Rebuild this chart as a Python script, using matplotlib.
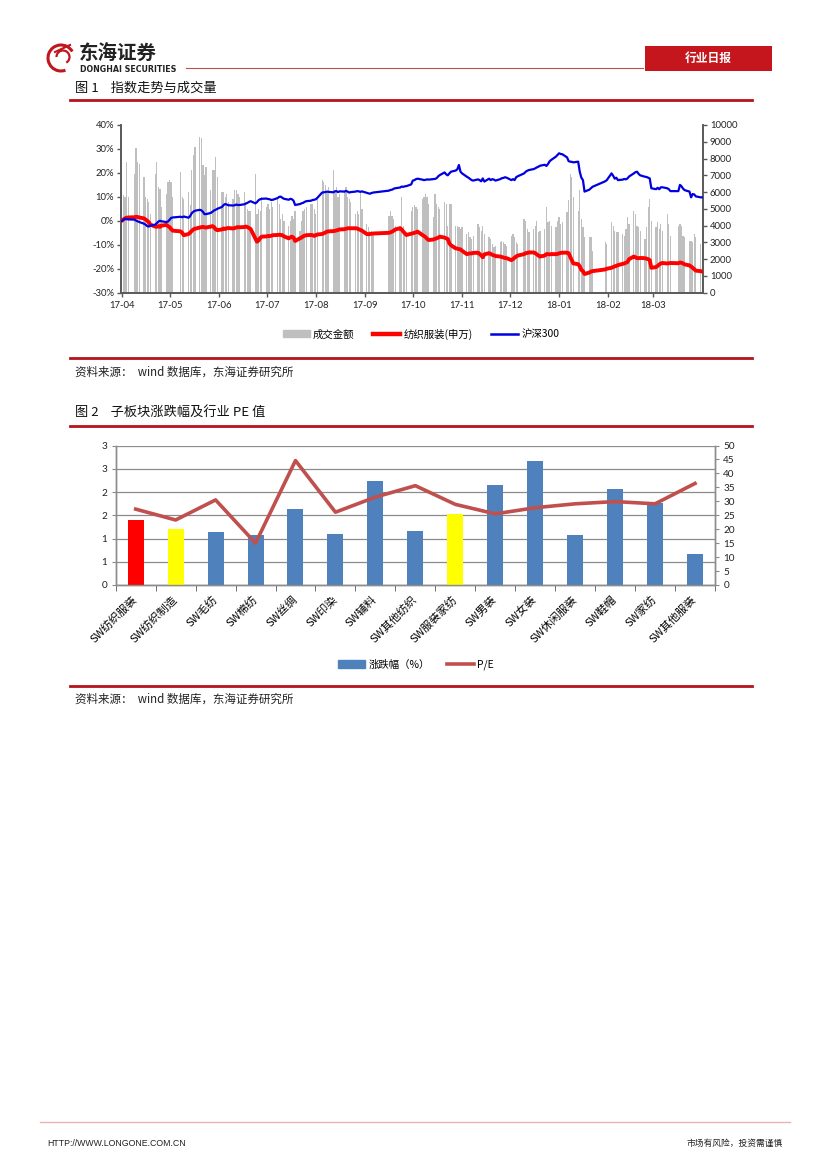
import numpy as np
import pandas as pd
import matplotlib
matplotlib.use('Agg')
import matplotlib.pyplot as plt
from matplotlib.patches import Rectangle, Arc, Patch
from matplotlib.lines import Line2D

plt.rcParams['font.family'] = ['Noto Sans CJK SC', 'DejaVu Sans']
plt.rcParams['axes.unicode_minus'] = False

# ------------------------------------------------------------------ data: chart 1
start_date = '2017-04-24'
end_date = '2018-04-24'
holidays = ['2017-05-01', '2017-05-29', '2017-05-30',
            '2017-10-02', '2017-10-03', '2017-10-04', '2017-10-05', '2017-10-06',
            '2018-01-01', '2018-02-15', '2018-02-16', '2018-02-19', '2018-02-20',
            '2018-02-21', '2018-04-05', '2018-04-06']
month_labels = ['17-04', '17-05', '17-06', '17-07', '17-08', '17-09',
                '17-10', '17-11', '17-12', '18-01', '18-02', '18-03']

# 成交金额 (right axis)
turnover = [
    6100, 5800, 5700, 7800, 5700,
    7100, 8600, 7800, 7700,
    6900, 5700, 5600, 5400, 4700,
    7100, 7800, 6300, 6200, 5100,
    5900, 6600, 6700, 6600, 5700,
    7200, 5700, 5600,
    6000, 5200, 7300, 8200, 8700,
    9300, 9200, 7600, 7000, 7500,
    6100, 7300, 7300, 8100, 6900,
    6000, 6000, 5700, 5900, 5400,
    5600, 6100, 6100, 5900, 5700,
    6000, 5400, 5000, 4900, 4900,
    7100, 4700, 5000, 4900, 5700,
    5100, 5300, 5000, 5400, 5100,
    5600, 5300, 4400, 4700, 4300,
    4000, 4300, 4600, 4400, 4900,
    3700, 4300, 4900, 5000, 5100,
    5300, 5300, 5000, 4700, 5700,
    6700, 6600, 6400, 6000, 6300,
    7300, 6100, 6300, 5700, 5900,
    6000, 6300, 5700, 5600, 5400,
    4700, 4900, 4700, 6000, 5000,
    4100, 3900, 3700, 3700, 3600,
    4600, 4900, 4600, 4400, 4000,
    4000, 5700, 4000, 3600, 3400,
    4900, 5100, 5200, 5100, 5000,
    5600, 5700, 5900, 5700, 5300,
    4500, 5900, 5300, 5100, 5000,
    5400, 5300, 4000, 5300, 5300,
    4000, 4000, 3900, 3800, 3900,
    3500, 3600, 3300, 3200, 3400,
    4100, 3900, 3700, 4000, 3500,
    3300, 3200, 2900, 2700, 2800,
    3000, 3100, 3000, 2900, 2800,
    3400, 3500, 3300, 3000, 2900,
    4400, 4300, 3800, 3600,
    3800, 4000, 4300, 3600, 3700,
    3800, 5100, 4200, 4300, 4000,
    3900, 4300, 4500, 4100, 4200,
    4800, 5500, 7100, 6900, 5700,
    4900, 6100, 4400, 3900, 3300,
    3300, 3300, 2500,
    3000, 2900,
    4200, 4000, 3700, 3600, 3600,
    3500, 3400, 3800, 4500, 4100,
    4900, 4700, 4000, 3900, 3700,
    3200, 3900, 5100, 5600, 4300,
    3900, 4200, 3800, 4100, 3700,
    4700, 4100, 3400,
    4000, 4100, 4000, 3400, 3300,
    3100, 3100, 3000, 3500, 3300,
    2900, 2800,
]

# 纺织服装(申万), cumulative % (left axis)
textile = [
    0.0, 0.6, 1.0, 1.3, 1.4,
    1.5, 1.7, 1.6, 1.4,
    1.0, 0.5, 0.0, -0.6, -1.6,
    -2.4, -2.5, -2.2, -2.5, -2.0,
    -1.7, -2.2, -2.6, -3.4, -4.1,
    -4.4, -5.0, -6.0,
    -5.5, -4.9, -4.2, -3.6, -3.3,
    -2.8, -2.6, -2.5, -2.7, -2.8,
    -2.4, -2.2, -2.6, -3.5, -3.9,
    -3.6, -3.2, -3.4, -3.1, -3.0,
    -3.2, -3.0, -2.8, -2.6, -2.7,
    -2.6, -2.4, -2.6, -3.0, -3.4,
    -7.3, -8.7, -8.2, -7.2, -6.6,
    -6.5, -6.3, -6.4, -6.2, -6.0,
    -5.9, -5.8, -5.9, -6.0, -6.5,
    -7.3, -6.9, -6.6, -7.0, -8.4,
    -7.3, -7.0, -6.5, -6.2, -6.0,
    -5.9, -6.0, -6.3, -6.0, -5.7,
    -5.5, -5.2, -4.9, -4.5, -4.4,
    -4.3, -4.2, -4.0, -3.8, -3.6,
    -3.5, -3.3, -3.1, -3.1, -3.1,
    -3.1, -3.2, -3.5, -3.8, -4.1,
    -5.5, -5.6, -5.5, -5.4, -5.3,
    -5.0, -4.8, -4.5, -4.1, -3.6,
    -3.1, -3.6, -4.5, -5.2, -5.9,
    -5.4, -5.2, -5.0, -4.8, -4.5,
    -5.9, -6.3, -6.8, -7.5, -8.0,
    -7.8, -7.5, -7.3, -7.0, -6.6,
    -7.0, -7.3, -7.6, -9.4, -10.2,
    -11.5, -11.6, -11.8, -11.9, -12.5,
    -13.9, -13.7, -13.6, -13.6, -13.4,
    -13.3, -13.8, -14.4, -15.2, -14.0,
    -13.5, -13.8, -14.2, -14.4, -14.7,
    -14.9, -15.1, -15.3, -15.5, -15.6,
    -16.4, -16.0, -15.4, -14.9, -14.5,
    -13.9, -13.5, -13.4, -13.2,
    -13.2, -13.5, -14.0, -14.5, -14.9,
    -14.5, -13.9, -13.9, -14.0, -13.9,
    -13.9, -13.8, -13.6, -13.4, -13.3,
    -13.3, -13.5, -15.0, -16.5, -17.8,
    -18.1, -19.0, -20.5, -21.0, -22.2,
    -21.6, -21.2, -21.0,
    -20.3, -20.0,
    -19.6, -19.3, -19.0, -18.8, -18.5,
    -18.0, -17.8, -17.5, -17.2, -16.0,
    -14.9, -15.2, -15.6, -15.6, -15.5,
    -15.6, -15.8, -16.0, -16.4, -19.6,
    -19.3, -18.8, -18.2, -17.8, -17.6,
    -17.8, -17.7, -17.6,
    -17.7, -17.4, -17.5, -17.8, -18.2,
    -18.6, -19.1, -19.6, -20.2, -20.8,
    -21.0, -21.2,
]

# 沪深300, cumulative % (left axis)
hs300 = [
    0.0, 0.4, 0.9, 0.7, 0.6,
    0.5, 0.1, -0.2, -0.5,
    -1.2, -1.6, -2.2, -2.4, -2.0,
    -1.6, -1.0, -0.3, 0.0, -0.2,
    -0.5, -0.3, 0.4, 1.2, 1.4,
    1.7, 1.5, 1.8,
    1.3, 2.0, 3.2, 3.8, 4.2,
    4.6, 4.4, 3.8, 2.8, 2.8,
    3.3, 3.8, 4.3, 4.6, 5.0,
    5.8, 6.6, 7.0, 6.8, 6.5,
    6.4, 6.5, 6.8, 6.6, 6.6,
    6.9, 7.2, 7.5, 7.9, 8.2,
    7.3, 7.8, 8.6, 9.0, 9.2,
    9.3, 9.1, 9.0, 8.7, 8.8,
    9.5, 10.0, 10.1, 9.6, 9.2,
    8.8, 9.2, 9.0, 8.4, 6.6,
    7.0, 7.3, 7.5, 7.9, 8.2,
    8.4, 8.7, 8.8, 9.0, 9.6,
    11.8, 11.9, 12.0, 12.2, 12.1,
    11.9, 12.3, 12.4, 12.0, 12.3,
    12.2, 12.5, 12.2, 11.8, 12.0,
    12.2, 12.4, 12.3, 12.1, 12.3,
    11.7, 11.5, 11.3, 11.6, 11.8,
    12.6, 12.9, 13.0, 13.4, 13.6,
    13.9, 14.3, 14.2, 14.4, 14.5,
    15.2, 16.8, 17.0, 17.4, 17.6,
    17.2, 17.0, 17.1, 17.3, 17.2,
    17.4, 17.5, 17.8, 18.6, 19.1,
    20.2, 19.4, 19.0, 19.8, 20.5,
    21.0, 21.5, 23.3, 20.5, 19.8,
    18.4, 18.0, 17.5, 17.0, 16.8,
    17.3, 17.0, 16.5, 17.7, 16.4,
    17.6, 17.0, 17.4, 17.2, 16.8,
    17.4, 17.8, 17.9, 18.2, 18.0,
    17.0, 17.4, 17.0, 18.2, 18.6,
    19.8, 20.5, 20.9, 21.2,
    21.6, 21.9, 22.3, 22.6, 23.0,
    23.4, 22.9, 23.7, 24.8, 25.4,
    26.8, 27.5, 28.2, 27.9, 27.8,
    26.5, 24.9, 24.7, 24.6, 24.4,
    24.7, 20.5, 18.0, 17.0, 12.2,
    13.0, 13.6, 14.2,
    16.5, 17.0,
    19.8, 18.8, 17.6, 18.0, 17.0,
    17.2, 17.5, 17.3, 17.7, 18.5,
    19.8, 20.3, 20.5, 19.6, 19.0,
    18.4, 18.3, 18.0, 17.7, 13.6,
    13.2, 13.8, 13.2, 14.0, 14.0,
    13.6, 13.2, 12.4,
    12.4, 15.0, 14.4, 13.4, 12.8,
    12.2, 9.8, 11.2, 11.0, 10.2,
    9.8, 9.8,
]

# ------------------------------------------------------------------ data: chart 2
sectors = ['SW纺织服装', 'SW纺织制造', 'SW毛纺', 'SW棉纺', 'SW丝绸', 'SW印染', 'SW辅料',
           'SW其他纺织', 'SW服装家纺', 'SW男装', 'SW女装', 'SW休闲服装', 'SW鞋帽',
           'SW家纺', 'SW其他服装']
pct_change = [1.40, 1.20, 1.13, 1.08, 1.63, 1.09, 2.24, 1.16, 1.53, 2.14, 2.67,
              1.07, 2.07, 1.76, 0.66]
pe_values = [27.2, 23.3, 30.5, 15.0, 44.6, 26.1, 31.5, 35.6, 28.9, 25.5, 27.7,
             29.1, 29.9, 29.1, 36.4]
left_ticks2 = [0, 0.5, 1, 1.5, 2, 2.5, 3]
left_ticklabels2 = ['0', '1', '1', '2', '2', '3', '3']

# ------------------------------------------------------------------ figure
W, H = 827, 1170
fig = plt.figure(figsize=(W / 100, H / 100), dpi=100)

def fx(x):
    return x / W

def fy(y):
    return 1 - y / H

bg = fig.add_axes([0, 0, 1, 1], zorder=-5)
bg.set_xlim(0, W)
bg.set_ylim(H, 0)
bg.axis('off')

RED = '#C0161D'
DARKRED = '#B5121B'

# header logo
bg.add_patch(Arc((61, 58), 26, 26, theta1=70, theta2=330, color=RED, lw=2.2))
bg.add_patch(Arc((63, 57), 13, 13, theta1=180, theta2=420, color=RED, lw=1.6))
bg.plot([55, 70], [52, 45], color=RED, lw=1.5)
bg.text(79, 54.5, '东海证券', fontsize=14, fontweight='bold', color='#222222',
        va='center', ha='left')
bg.text(80, 69.5, 'DONGHAI SECURITIES', fontsize=5.7, fontweight='bold',
        color='#222222', va='center', ha='left', family=['DejaVu Sans'])
bg.plot([186, 643], [68, 68], color='#C0504D', lw=0.8)
bg.add_patch(Rectangle((645, 46), 127, 25, color='#C4161C', lw=0))
bg.text(708.5, 58.5, '行业日报', fontsize=8.5, fontweight='bold', color='white',
        ha='center', va='center')

# chart 1 title + rules
bg.text(75, 88, '图 1    指数走势与成交量', fontsize=9.5, ha='left', va='center',
        color='#111111')
bg.plot([70, 752], [100, 100], color=DARKRED, lw=2.0)
bg.plot([70, 752], [358, 358], color=DARKRED, lw=2.0)
bg.text(75, 372, '资料来源：  wind 数据库，东海证券研究所', fontsize=8.3, ha='left',
        va='center', color='#222222')

# chart 2 title + rules
bg.text(75, 413, '图 2    子板块涨跌幅及行业 PE 值', fontsize=9.5, ha='left',
        va='center', color='#111111')
bg.plot([70, 752], [426, 426], color=DARKRED, lw=2.0)
bg.plot([70, 752], [686, 686], color=DARKRED, lw=2.0)
bg.text(75, 699, '资料来源：  wind 数据库，东海证券研究所', fontsize=8.3, ha='left',
        va='center', color='#222222')

# footer
bg.plot([40, 790], [1122, 1122], color='#E9B3B3', lw=1.0)
bg.text(47, 1143, 'HTTP://WWW.LONGONE.COM.CN', fontsize=6.3, ha='left', va='center',
        color='#222222', family=['Liberation Sans'])
bg.text(783, 1143, '市场有风险，投资需谨慎', fontsize=6.3, ha='right', va='center',
        color='#222222')

# ------------------------------------------------------------------ chart 1
dates = pd.bdate_range(start_date, end_date)
dates = dates[~dates.isin(pd.to_datetime(holidays))]
n = min(len(dates), len(turnover), len(textile), len(hs300))
dates = dates[:n]

SPINE = '#595959'
l1, r1, t1, b1 = 121, 703, 125, 292.7
axr = fig.add_axes([fx(l1), fy(b1), fx(r1 - l1), (b1 - t1) / H])
axl = axr.twinx()

axr.bar(dates, turnover[:n], width=0.8, color='#BFBFBF', linewidth=0)
axr.set_ylim(0, 10000)
axr.set_yticks(np.arange(0, 10001, 1000))
axr.yaxis.tick_right()
axr.yaxis.set_label_position('right')

axl.plot(dates, textile[:n], color='#FF0000', lw=2.8, solid_joinstyle='round',
         solid_capstyle='round', zorder=3)
axl.plot(dates, hs300[:n], color='#0000E0', lw=1.6, solid_joinstyle='round', zorder=4)
axl.set_ylim(-30, 40)
axl.set_yticks(np.arange(-30, 41, 10))
axl.set_yticklabels([f'{v}%' for v in range(-30, 41, 10)])
axl.yaxis.tick_left()

tick_dates = pd.date_range(start_date, periods=len(month_labels),
                           freq=pd.DateOffset(months=1))
axr.set_xlim(pd.Timestamp(start_date) - pd.Timedelta(hours=12),
             pd.Timestamp(end_date) + pd.Timedelta(hours=12))
axr.set_xticks(tick_dates)
axr.set_xticklabels(month_labels)

for a in (axr, axl):
    for s in a.spines.values():
        s.set_color(SPINE)
        s.set_linewidth(1.2)
    a.spines['top'].set_visible(False)
    a.tick_params(colors=SPINE, labelcolor='#222222', labelsize=6.8, length=3,
                  width=1.0, direction='out', pad=2)
axr.tick_params(axis='x', pad=3)
for lab in axr.get_xticklabels() + axr.get_yticklabels() + axl.get_yticklabels():
    lab.set_family(['Lato', 'DejaVu Sans'])

h1 = [Patch(color='#BFBFBF'),
      Line2D([0], [0], color='#FF0000', lw=3.2),
      Line2D([0], [0], color='#0000E0', lw=1.8)]
fig.legend(h1, ['成交金额', '纺织服装(申万)', '沪深300'], loc='center',
           bbox_to_anchor=(fx(421), fy(334)), ncol=3, frameon=False, fontsize=7.5,
           handlelength=2.6, handleheight=0.7, columnspacing=1.8, handletextpad=0.3)

# ------------------------------------------------------------------ chart 2
l2, r2, t2, b2 = 115.7, 715, 445.5, 585
ax2 = fig.add_axes([fx(l2), fy(b2), fx(r2 - l2), (b2 - t2) / H])
ax2r = ax2.twinx()

x = np.arange(len(sectors))
bar_colors = ['#4F81BD'] * len(sectors)
bar_colors[0] = '#FF0000'
bar_colors[1] = '#FFFF00'
bar_colors[8] = '#FFFF00'
ax2.bar(x, pct_change, width=0.4, color=bar_colors, zorder=3, linewidth=0)
ax2.set_ylim(0, 3)
ax2.set_yticks(left_ticks2)
ax2.set_yticklabels(left_ticklabels2)
ax2.grid(axis='y', color='#8C8C8C', lw=0.9, zorder=0)
ax2.set_axisbelow(True)
ax2.set_xlim(-0.5, len(sectors) - 0.5)
ax2.set_xticks(x)
ax2.set_xticklabels(sectors, rotation=45, ha='right', va='center',
                    rotation_mode='anchor', fontsize=8)
ax2.set_xticks(np.arange(-0.5, len(sectors), 1), minor=True)
ax2.tick_params(axis='x', which='major', length=0, pad=9)
ax2.tick_params(axis='x', which='minor', length=4, color=SPINE)

ax2r.plot(x, pe_values, color='#C0504D', lw=2.6, solid_joinstyle='round', zorder=4)
ax2r.set_ylim(0, 50)
ax2r.set_yticks(np.arange(0, 51, 5))

for a in (ax2, ax2r):
    for s in a.spines.values():
        s.set_color('#8C8C8C')
        s.set_linewidth(1.0)
    a.spines['top'].set_visible(False)
    a.tick_params(axis='y', colors='#8C8C8C', labelcolor='#222222', labelsize=7.2,
                  length=3, direction='out', pad=3)
for lab in ax2.get_yticklabels() + ax2r.get_yticklabels():
    lab.set_family(['Lato', 'DejaVu Sans'])

h2 = [Patch(color='#4F81BD'), Line2D([0], [0], color='#C0504D', lw=2.6)]
fig.legend(h2, ['涨跌幅（%）', 'P/E'], loc='center', bbox_to_anchor=(fx(416), fy(665)),
           ncol=2, frameon=False, fontsize=7.5, handlelength=2.6, handleheight=0.7,
           columnspacing=1.6, handletextpad=0.3)

fig.savefig('out.png', dpi=100)
